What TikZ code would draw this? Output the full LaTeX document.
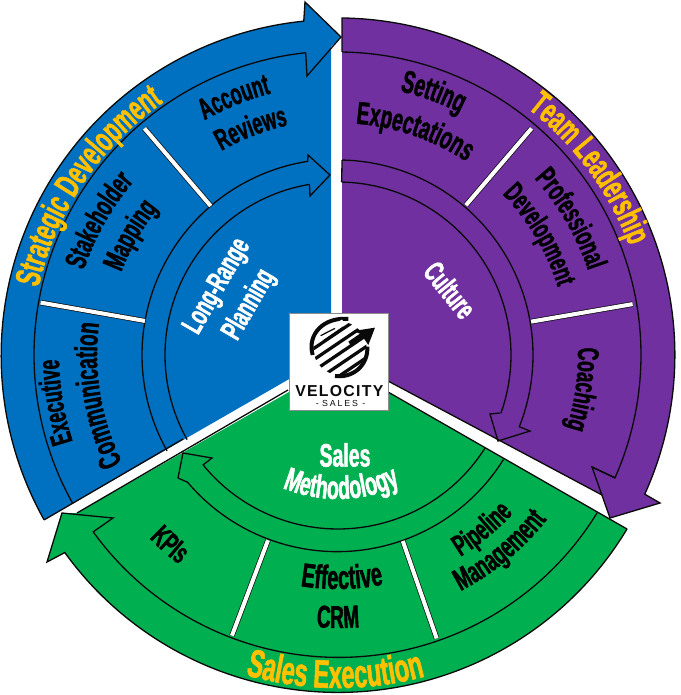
\documentclass[tikz,border=0pt]{standalone}
\usepackage{fontspec}
\usetikzlibrary{decorations.text}
\newfontfamily\cond[FakeStretch=0.6,FakeBold=1.4,UprightFont={* Bold}]{Liberation Sans}
\newfontfamily\logofont[LetterSpace=8]{Liberation Sans}
\newfontfamily\logofontb[LetterSpace=22]{Liberation Sans}
\definecolor{bluef}{HTML}{0070C0}
\definecolor{purplef}{HTML}{7030A0}
\definecolor{greenf}{HTML}{00B050}
\definecolor{goldt}{HTML}{FFC000}
\definecolor{inkk}{HTML}{0A0A0A}
\tikzset{
  sect/.style={line width=0.75pt,draw=inkk,line join=miter},
  divider/.style={draw=inkk,line width=0.4pt,double=white,double distance=2.3pt},
  lineword/.style={font=\cond\fontsize{17}{21}\selectfont,align=center,inner sep=0pt},
}
% clockwise (top) and counter-clockwise (bottom) curved words: radius, centre angle, size, colour, text
\newcommand{\cwword}[5]{\path[decorate,decoration={text along path,text align=center,
  text={|\cond\fontsize{#3}{#3}\selectfont\color{#4}|#5}}]
  ({#2+45}:#1) arc[start angle={#2+45},end angle={#2-45},radius=#1];}
\newcommand{\ccwword}[5]{\path[decorate,decoration={text along path,text align=center,
  text={|\cond\fontsize{#3}{#3}\selectfont\color{#4}|#5}}]
  ({#2-45}:#1) arc[start angle={#2-45},end angle={#2+45},radius=#1];}
\begin{document}
\begin{tikzpicture}[x=0.02cm,y=0.02cm]
\useasboundingbox (-338,-340) rectangle (342,355);
% --- fills
\fill[bluef] (-7,0) -- (209.3:337) arc[start angle=209.3,end angle=95.7,radius=336]
  -- (-33,353) -- (3,318) -- (-7,308) -- cycle;
\fill[purplef] (4,-1) -- (4,337) arc[start angle=89.3,end angle=-24.4,radius=337]
  -- (322,-148) -- (272,-163) -- (264,-140) -- cycle;
\fill[greenf] (0,-9) -- (289,-174) arc[start angle=-31,end angle=-144.2,radius=337]
  -- (-291,-207) -- (-276,-158) -- (-261,-158) -- cycle;
% --- blue lines
\draw[sect] (209.3:337) arc[start angle=209.3,end angle=95.7,radius=336]
  -- (-33,353) -- (3,318) -- (-31,279) -- (96.1:304);
\draw[sect] (96.1:304) arc[start angle=96.1,end angle=209.3,radius=304];
\draw[sect] (209.3:196) arc[start angle=209.3,end angle=98.9,radius=196]
  -- (-30,200) -- (-8,180) -- (-28,159) -- (99.5:173);
\draw[sect] (99.5:173) arc[start angle=99.5,end angle=209.3,radius=173];
\draw[sect] (209.3:337) -- (-155,-84);
% --- purple lines
\draw[sect] (4,303) -- (4,337) arc[start angle=89.3,end angle=-24.4,radius=337]
  -- (322,-148) -- (272,-163) -- (254,-112) -- (277,-123);
\draw[sect] (89.2:303) arc[start angle=89.2,end angle=-23.9,radius=303] -- (254,-112);
\draw[sect] (88.8:195) arc[start angle=88.8,end angle=-21.6,radius=195]
  -- (192,-76) -- (160,-86) -- (152,-59) -- (162,-58);
\draw[sect] (88.8:173) arc[start angle=88.8,end angle=-19.7,radius=173];
\draw[sect] (88.8:195) -- (88.8:173);
\draw[sect] (264,-140) -- (50,-26);
% --- green lines
\draw[sect] (289,-174) arc[start angle=-31,end angle=-144.2,radius=337]
  -- (-291,-207) -- (-276,-158) -- (-225,-163) -- (-245,-177);
\draw[sect] (215.8:302) arc[start angle=215.8,end angle=328.5,radius=303];
\draw[sect] (220:197) arc[start angle=220,end angle=328,radius=196];
\draw[sect] (219:174) arc[start angle=219,end angle=327.7,radius=174];
\draw[sect] (-135,-110) -- (-126,-103) -- (-155,-98) -- (-160,-123) -- (-151,-127);
\draw[sect] (-261,-158) -- (-50,-35);
\draw[sect] (289,-174) -- (50,-37);
% --- dividers
\draw[divider] (130.5:196) -- (130.5:298);
\draw[divider] (170:196) -- (170:302);
\draw[divider] (49.5:197) -- (49.5:298);
\draw[divider] (9.8:196) -- (9.8:299);
\draw[divider] (249.3:198) -- (249.3:300);
\draw[divider] (289.2:197) -- (289.2:300);
% --- ring titles
\cwword{307}{146}{20}{goldt}{Strategic Development}
\cwword{311}{36.5}{20}{goldt}{Team Leadership}
\ccwword{333}{269.5}{22.5}{goldt}{Sales Execution}
% --- section words
\cwword{270}{112}{17}{black}{Account}
\cwword{235}{111}{17}{black}{Reviews}
\cwword{268}{150.6}{17}{black}{Stakeholder}
\cwword{232}{150}{17}{black}{Mapping}
\cwword{279}{189.5}{17}{black}{Executive}
\cwword{241}{189.5}{18}{black}{Communication}
\cwword{271}{70}{18}{black}{Setting}
\cwword{232}{71}{18}{black}{Expectations}
\cwword{264}{30.3}{17}{black}{Professional}
\cwword{230}{30.8}{16.5}{black}{Development}
\cwword{240}{-8}{17}{black}{Coaching}
\ccwword{263}{228.5}{17}{black}{KPIs}
\ccwword{234}{271}{19}{black}{Effective}
\ccwword{273}{270}{18}{black}{CRM}
\ccwword{236}{309.6}{17}{black}{Pipeline}
\ccwword{266}{309.6}{17.5}{black}{Management}
\ccwword{144}{271.5}{18.5}{white}{Methodology}
\node[lineword,text=white,rotate=60] (lrp) at (-104,59) {Long-Range\\Planning};
\node[lineword,text=white,rotate=-51] (cul) at (112,65) {Culture};
\node[lineword,text=white,font=\cond\fontsize{18.5}{21}\selectfont] (sal) at (7,-100) {Sales};
% --- logo
\node[draw=black!45,fill=white,line width=0.4pt,minimum width=1.98cm,minimum height=1.94cm,inner sep=0pt] (logo) at (0.5,-7) {};
\begin{scope}[shift={(-58,50)},x=0.006667cm,y=-0.006667cm]
  \begin{scope}
    \clip (180,130) circle (80);
    \foreach \k in {0,1,2,3,4}{
      \draw[inkk,line width=0.065cm] ({80+20*\k},{145+20*\k}) -- ++(170,-115);
    }
  \end{scope}
  \draw[inkk,line width=0.08cm] (98,150) .. controls (80,85) and (135,35) .. (205,42);
  \draw[inkk,line width=0.08cm] (262,125) .. controls (265,180) and (220,220) .. (165,213);
  \draw[white,line width=0.1cm] (122,92) -- (190,50);
  \draw[inkk,line width=0.025cm] (122,92) -- (165,70);
  \draw[inkk,line width=0.025cm] (132,106) -- (190,66);
  \fill[inkk] (285,68) -- (220,78) -- (240,86) -- (205,110) -- (215,125) -- (250,98) -- (265,120) -- cycle;
  \node[inner sep=0pt,text=inkk] (velo) at (178,258) {\logofont\bfseries\fontsize{9}{10}\selectfont VELOCITY};
  \node[inner sep=0pt,text=inkk] (sale) at (182,295) {\logofont\fontsize{5}{6}\selectfont - \logofontb\fontsize{5}{6}\selectfont SALES \logofont\fontsize{5}{6}\selectfont -};
\end{scope}
\end{tikzpicture}
\end{document}
